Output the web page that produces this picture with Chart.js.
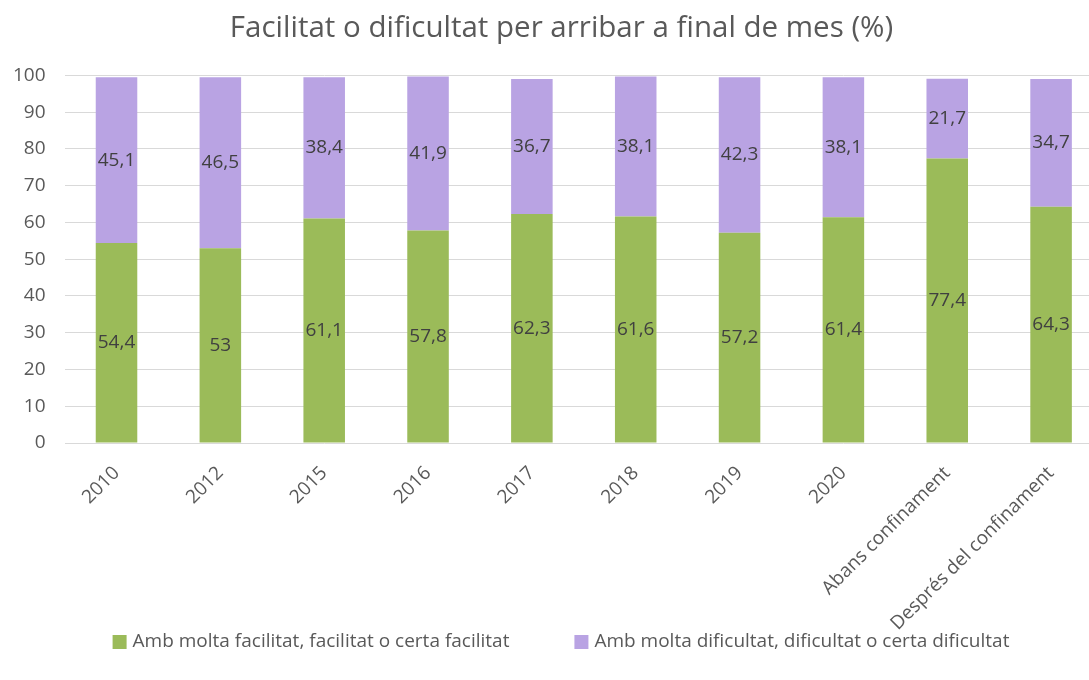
<!DOCTYPE html>
<html>
<head>
<meta charset="utf-8">
<script src="https://cdn.jsdelivr.net/npm/chart.js@4/dist/chart.umd.min.js"></script>
<style>
  html, body { margin: 0; padding: 0; background: #fff; overflow: hidden; }
  #wrap { width: 1089px; height: 680px; overflow: hidden; }
</style>
</head>
<body>
<div id="wrap"><canvas id="chart" width="1122" height="680"></canvas></div>
<script>
'use strict';

const categories = ['2010', '2012', '2015', '2016', '2017', '2018', '2019', '2020', 'Abans confinament', 'Després del confinament'];
const easyValues = [54.4, 53, 61.1, 57.8, 62.3, 61.6, 57.2, 61.4, 77.4, 64.3];
const hardValues = [45.1, 46.5, 38.4, 41.9, 36.7, 38.1, 42.3, 38.1, 21.7, 34.7];
const yTicks = [0, 10, 20, 30, 40, 50, 60, 70, 80, 90, 100];

const FONT = '"Open Sans", sans-serif';

// values written inside each bar segment, with decimal comma
const barLabels = {
  id: 'barLabels',
  afterDatasetsDraw(chart) {
    const ctx = chart.ctx;
    ctx.save();
    ctx.font = '19px ' + FONT;
    ctx.fillStyle = '#404040';
    ctx.textAlign = 'center';
    ctx.textBaseline = 'middle';
    chart.data.datasets.forEach((ds, i) => {
      const meta = chart.getDatasetMeta(i);
      meta.data.forEach((bar, j) => {
        const txt = String(ds.data[j]).replace('.', ',');
        ctx.fillText(txt, bar.x, (bar.y + bar.base) / 2);
      });
    });
    ctx.restore();
  }
};

// legend row at the bottom: built-in legend ties the item gap to its vertical padding
const bottomLegend = {
  id: 'bottomLegend',
  afterLayout(chart) {
    // centre the title on the whole picture, not on the padded layout box
    chart.titleBlock.left += 26;
  },
  afterDraw(chart) {
    const ctx = chart.ctx;
    const box = 14, gap = 65, textGap = 6;
    ctx.save();
    ctx.font = '19px ' + FONT;
    ctx.textBaseline = 'middle';
    const items = chart.data.datasets.map((ds) => ({
      text: ds.label, color: ds.backgroundColor, w: box + textGap + ctx.measureText(ds.label).width,
    }));
    const total = items.reduce((s, it) => s + it.w, 0) + gap * (items.length - 1);
    let x = chart.width / 2 - total / 2;
    const y = chart.height - 38;
    items.forEach((it) => {
      ctx.fillStyle = it.color;
      ctx.fillRect(x, y - box / 2, box, box);
      ctx.fillStyle = '#595959';
      ctx.fillText(it.text, x + box + textGap, y);
      x += it.w + gap;
    });
    ctx.restore();
  }
};

new Chart(document.getElementById('chart'), {
  type: 'bar',
  data: {
    labels: categories,
    datasets: [
      {
        label: 'Amb molta facilitat, facilitat o certa facilitat',
        data: easyValues,
        backgroundColor: '#9BBB59',
        barPercentage: 0.4,
        categoryPercentage: 1,
      },
      {
        label: 'Amb molta dificultat, dificultat o certa dificultat',
        data: hardValues,
        backgroundColor: '#B9A3E3',
        barPercentage: 0.4,
        categoryPercentage: 1,
      },
    ],
  },
  options: {
    responsive: false,
    animation: false,
    layout: { padding: { left: -6, right: 19, top: 0, bottom: 34 } },
    plugins: {
      title: {
        display: true,
        text: 'Facilitat o dificultat per arribar a final de mes (%)',
        color: '#595959',
        font: { family: FONT, size: 29.5, weight: 'normal' },
        padding: { top: 11, bottom: 29 },
      },
      legend: { display: false },
      tooltip: { enabled: false },
    },
    scales: {
      x: {
        stacked: true,
        grid: { display: false },
        border: { display: false },
        ticks: {
          color: '#595959',
          font: { family: FONT, size: 19 },
          maxRotation: 45,
          minRotation: 45,
          padding: 11,
        },
      },
      y: {
        stacked: true,
        min: 0,
        max: 100,
        afterBuildTicks: (axis) => { axis.ticks = yTicks.map((v) => ({ value: v })); },
        grid: { color: '#d9d9d9', lineWidth: 1, drawTicks: false },
        border: { display: false },
        ticks: {
          color: '#595959',
          font: { family: FONT, size: 19 },
          padding: 19,
        },
      },
    },
  },
  plugins: [barLabels, bottomLegend],
});
</script>
</body>
</html>
